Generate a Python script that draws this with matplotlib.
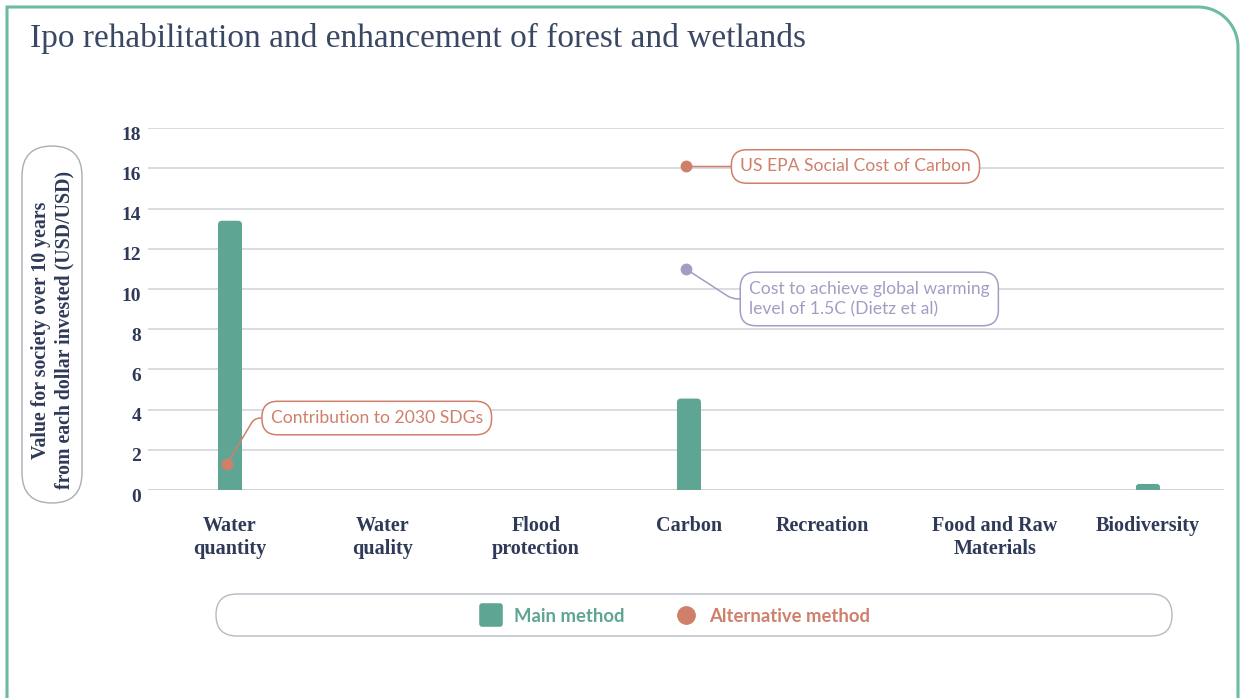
import numpy as np
import matplotlib
matplotlib.use('Agg')
import matplotlib.pyplot as plt
from matplotlib.patches import FancyBboxPatch, PathPatch
from matplotlib.path import Path
from matplotlib.lines import Line2D
from matplotlib.markers import MarkerStyle
from matplotlib.transforms import IdentityTransform, ScaledTranslation

# data
categories = ['Water\nquantity', 'Water\nquality', 'Flood\nprotection', 'Carbon',
              'Recreation', 'Food and Raw\nMaterials', 'Biodiversity']
main_values = [13.4, 0, 0, 4.55, 0, 0, 0.3]

alt_labels = ['Contribution to 2030 SDGs', 'US EPA Social Cost of Carbon',
              'Cost to achieve global warming\nlevel of 1.5C (Dietz et al)']
alt_category = [0, 3, 3]
alt_values = [1.3, 16.1, 11.0]

yticks = [0, 2, 4, 6, 8, 10, 12, 14, 16, 18]

GREEN = '#5fa594'
ORANGE = '#cf806a'
PURPLE = '#a69cc3'
NAVY = '#2f3a58'
GRID = '#d3d6dc'

W, H = 1241, 698
fig = plt.figure(figsize=(W / 100, H / 100), dpi=100)


def frac(x, y):
  # image pixel -> figure fraction
  return x / W, 1 - y / H


# axes box: x 148..1224, y 128..490 (image pixels)
ax = fig.add_axes([148 / W, (H - 490) / H, (1224 - 148) / W, (490 - 128.3) / H])
x = np.arange(len(categories))
bar_w = 0.157
bars = ax.bar(x, main_values, width=bar_w, color=GREEN, zorder=3)
ax.set_xlim(-0.536, 6.497)
ax.set_ylim(0, 18)

# swap the plain bars for ones with rounded tops (bottom sits below the clip)
px_x = 1076 / (6.497 + 0.536)   # pixels per x unit
px_y = 361.7 / 18               # pixels per y unit
for rect, v in zip(bars, main_values):
  rect.set_visible(False)
  if v <= 0:
    continue
  rad = min(4, v * px_y / 2) / px_x
  p = FancyBboxPatch((rect.get_x(), -1), bar_w, v + 1,
                     boxstyle='round,pad=0,rounding_size=%f' % rad,
                     mutation_aspect=px_x / px_y, fc=GREEN, ec='none', zorder=3)
  ax.add_patch(p)

for s in ax.spines.values():
  s.set_visible(False)
ax.set_yticks(yticks)
ax.yaxis.grid(True, color=GRID, lw=1.2, zorder=0)
ax.axhline(0, color='#bcc3ca', lw=1.3, zorder=1)
ax.tick_params(axis='both', length=0)
ax.tick_params(axis='y', pad=5)
ax.tick_params(axis='x', pad=19)
ax.set_xticks(x)
ax.set_xticklabels(categories, linespacing=1.15)
for lab in ax.get_yticklabels():
  lab.set_fontsize(14)
  lab.set_transform(lab.get_transform() + ScaledTranslation(0, -5 / 100, fig.dpi_scale_trans))
for lab in ax.get_xticklabels():
  lab.set_fontsize(14.5)
  lab.set_va('top')
for lab in ax.get_yticklabels() + ax.get_xticklabels():
  lab.set_fontfamily('Liberation Serif')
  lab.set_fontweight('bold')
  lab.set_color(NAVY)
# the Recreation label sits a bit left of its slot in the original
rec = ax.get_xticklabels()[4]
rec.set_transform(rec.get_transform() + ScaledTranslation(-20 / 100, 0, fig.dpi_scale_trans))

# alternative method dots + callouts
alt_colors = [ORANGE, ORANGE, PURPLE]
offsets = [(31.5, 33), (39, 0), (45.4, -21.6)]
conns = ['angle,angleA=0,angleB=59,rad=6', 'arc3', 'angle,angleA=0,angleB=-33,rad=6']
for i in range(len(alt_labels)):
  xv = alt_category[i] - 0.02
  ax.plot(xv, alt_values[i], 'o', color=alt_colors[i], ms=7.5, zorder=5)
  ax.annotate(alt_labels[i], xy=(xv, alt_values[i]), xytext=offsets[i],
              textcoords='offset points', ha='left', va='center',
              fontfamily='Lato', fontsize=12.6, color=alt_colors[i], linespacing=1.3,
              bbox=dict(boxstyle='round,pad=0.5,rounding_size=0.9', fc='white',
                        ec=alt_colors[i], lw=1.1),
              arrowprops=dict(arrowstyle='-', color=alt_colors[i], lw=1.1,
                              connectionstyle=conns[i], relpos=(0, 0.5),
                              shrinkA=0, shrinkB=0),
              zorder=6)

# title
fig.text(*frac(30, 38), 'Ipo rehabilitation and enhancement of forest and wetlands',
         fontfamily='Liberation Serif', fontsize=24, color='#3b4863', va='center', ha='left')

# y label in its rounded box
ylab_box = FancyBboxPatch((22, H - 503), 60, 357, boxstyle='round,pad=0,rounding_size=30',
                          fc='none', ec='#a9adb5', lw=1.0, transform=IdentityTransform())
fig.add_artist(ylab_box)
fig.text(*frac(53, 330), 'Value for society over 10 years\nfrom each dollar invested (USD/USD)',
         rotation=90, ha='center', va='center', fontfamily='Liberation Serif',
         fontweight='bold', fontsize=14.3, color=NAVY, linespacing=1.2)

# legend with its own wide rounded frame
leg_box = FancyBboxPatch((216, H - 636), 956, 42, boxstyle='round,pad=0,rounding_size=21',
                         fc='none', ec='#b5bac2', lw=1.0, transform=IdentityTransform())
fig.add_artist(leg_box)
handles = [
  Line2D([], [], ls='none', marker=MarkerStyle('s', joinstyle='round'), ms=13, mew=4,
         color=GREEN, mec=GREEN),
  Line2D([], [], ls='none', marker='o', ms=12.5, color=ORANGE),
]
leg = fig.legend(handles, ['Main method', 'Alternative method'], loc='center',
                 bbox_to_anchor=frac(674, 616), ncol=2, frameon=False,
                 prop={'family': 'Lato', 'weight': 'bold', 'size': 13.3},
                 handlelength=1.4, handletextpad=0.55, columnspacing=2.6)
for t, c in zip(leg.get_texts(), [GREEN, ORANGE]):
  t.set_color(c)

# outer green frame, rounded only at top right
r = 40
theta = np.linspace(np.pi / 2, 0, 20)
arc_x = 1238 - r + r * np.cos(theta)
arc_y = (H - 7) - r + r * np.sin(theta)
verts = [(7, -5), (7, H - 7)] + list(zip(arc_x, arc_y)) + [(1238, -5)]
frame = PathPatch(Path(verts), fill=False, ec='#6cbba5', lw=2.2, transform=IdentityTransform())
fig.add_artist(frame)

fig.savefig('out.png', dpi=100)
plt.close()
